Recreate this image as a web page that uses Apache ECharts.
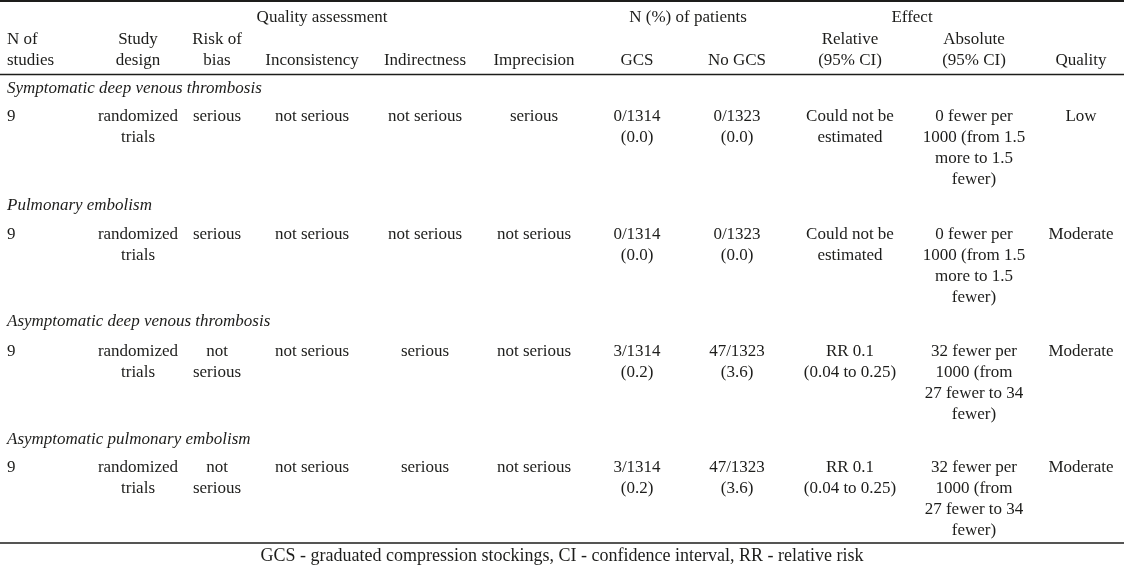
<!DOCTYPE html>
<html>
<head>
<meta charset="utf-8">
<script src="https://cdn.jsdelivr.net/npm/echarts@6/dist/echarts.min.js"></script>
<style>html,body{margin:0;padding:0;background:#fff;}#c{width:1124px;height:569px;}</style>
</head>
<body>
<div id="c"></div>
<script>
// ---- data ----
const groupHeaders = ['Quality assessment', 'N (%) of patients', 'Effect'];
const columnHeaders = ['N of\nstudies', 'Study\ndesign', 'Risk of\nbias', 'Inconsistency', 'Indirectness', 'Imprecision', 'GCS', 'No GCS', 'Relative\n(95% CI)', 'Absolute\n(95% CI)', 'Quality'];
const outcomes = ['Symptomatic deep venous thrombosis', 'Pulmonary embolism', 'Asymptomatic deep venous thrombosis', 'Asymptomatic pulmonary embolism'];
const nStudies = ['9', '9', '9', '9'];
const studyDesign = ['randomized\ntrials', 'randomized\ntrials', 'randomized\ntrials', 'randomized\ntrials'];
const riskOfBias = ['serious', 'serious', 'not\nserious', 'not\nserious'];
const inconsistency = ['not serious', 'not serious', 'not serious', 'not serious'];
const indirectness = ['not serious', 'not serious', 'serious', 'serious'];
const imprecision = ['serious', 'not serious', 'not serious', 'not serious'];
const gcs = ['0/1314\n(0.0)', '0/1314\n(0.0)', '3/1314\n(0.2)', '3/1314\n(0.2)'];
const noGcs = ['0/1323\n(0.0)', '0/1323\n(0.0)', '47/1323\n(3.6)', '47/1323\n(3.6)'];
const relative = ['Could not be\nestimated', 'Could not be\nestimated', 'RR 0.1\n(0.04 to 0.25)', 'RR 0.1\n(0.04 to 0.25)'];
const absolute = ['0 fewer per\n1000 (from 1.5\nmore to 1.5\nfewer)', '0 fewer per\n1000 (from 1.5\nmore to 1.5\nfewer)', '32 fewer per\n1000 (from\n27 fewer to 34\nfewer)', '32 fewer per\n1000 (from\n27 fewer to 34\nfewer)'];
const quality = ['Low', 'Moderate', 'Moderate', 'Moderate'];
const footnote = 'GCS - graduated compression stockings, CI - confidence interval, RR - relative risk';

// ---- layout (positions, sizes, styles) ----
const W = 1124, H = 569;
const colX = [7, 138, 217, 312, 425, 534, 637, 737, 850, 974, 1081];
const colAlign = ['left', 'center', 'center', 'center', 'center', 'center', 'center', 'center', 'center', 'center', 'center'];
const groupX = [322, 688, 912];
const groupY = 18;
const headerY = 40;
const titleY = [89, 206, 322, 440];
const rowY = [117, 235, 352, 468];
const footY = 556;
const LH = 20.7;
const ruleY = [1, 74.5, 543];
const ruleW = [2, 1.3, 1.3];
const FONT = '"Liberation Serif", "DejaVu Serif", serif';
const FS = 17;
const FOOT_FS = 18;
const COLOR = '#1d1d1b';

const columnsData = [nStudies, studyDesign, riskOfBias, inconsistency, indirectness, imprecision, gcs, noGcs, relative, absolute, quality];

const texts = [];
groupHeaders.forEach((t, i) => texts.push([groupX[i], groupY, t, 'center', 'normal']));
columnHeaders.forEach((t, i) => {
  const lines = t.split('\n').length;
  const y = headerY + 21 - (lines - 1) * 21;
  texts.push([colX[i], y, t, colAlign[i], 'normal', 21]);
});
outcomes.forEach((t, r) => {
  texts.push([7, titleY[r], t, 'left', 'italic']);
  columnsData.forEach((col, c) => texts.push([colX[c], rowY[r], col[r], colAlign[c], 'normal']));
});
texts.push([W / 2, footY, footnote, 'center', 'normal', LH, FOOT_FS]);

const rules = ruleY.map((y, i) => [0, y, W, ruleW[i]]);

const chart = echarts.init(document.getElementById('c'), null, { renderer: 'canvas' });
chart.setOption({
  animation: false,
  backgroundColor: '#fff',
  grid: { left: 0, right: 0, top: 0, bottom: 0 },
  xAxis: { type: 'value', min: 0, max: W, show: false },
  yAxis: { type: 'value', min: 0, max: H, inverse: true, show: false },
  series: [
    {
      type: 'custom',
      coordinateSystem: 'cartesian2d',
      data: rules,
      renderItem: (params, api) => {
        const p0 = api.coord([api.value(0), api.value(1)]);
        const p1 = api.coord([api.value(2), api.value(1)]);
        return { type: 'line', shape: { x1: p0[0], y1: p0[1], x2: p1[0], y2: p1[1] }, style: { stroke: COLOR, lineWidth: api.value(3) } };
      }
    },
    {
      type: 'custom',
      coordinateSystem: 'cartesian2d',
      data: texts.map(d => [d[0], d[1]]),
      renderItem: (params, api) => {
        const item = texts[params.dataIndex];
        const p = api.coord([item[0], item[1]]);
        const lh = item[5] || LH;
        return {
          type: 'text',
          x: p[0], y: p[1] - lh / 2,
          style: {
            text: item[2],
            textAlign: item[3],
            textVerticalAlign: 'top',
            fontFamily: FONT,
            fontSize: item[6] || FS,
            fontStyle: item[4],
            lineHeight: lh,
            fill: COLOR
          }
        };
      }
    }
  ]
});
</script>
</body>
</html>
